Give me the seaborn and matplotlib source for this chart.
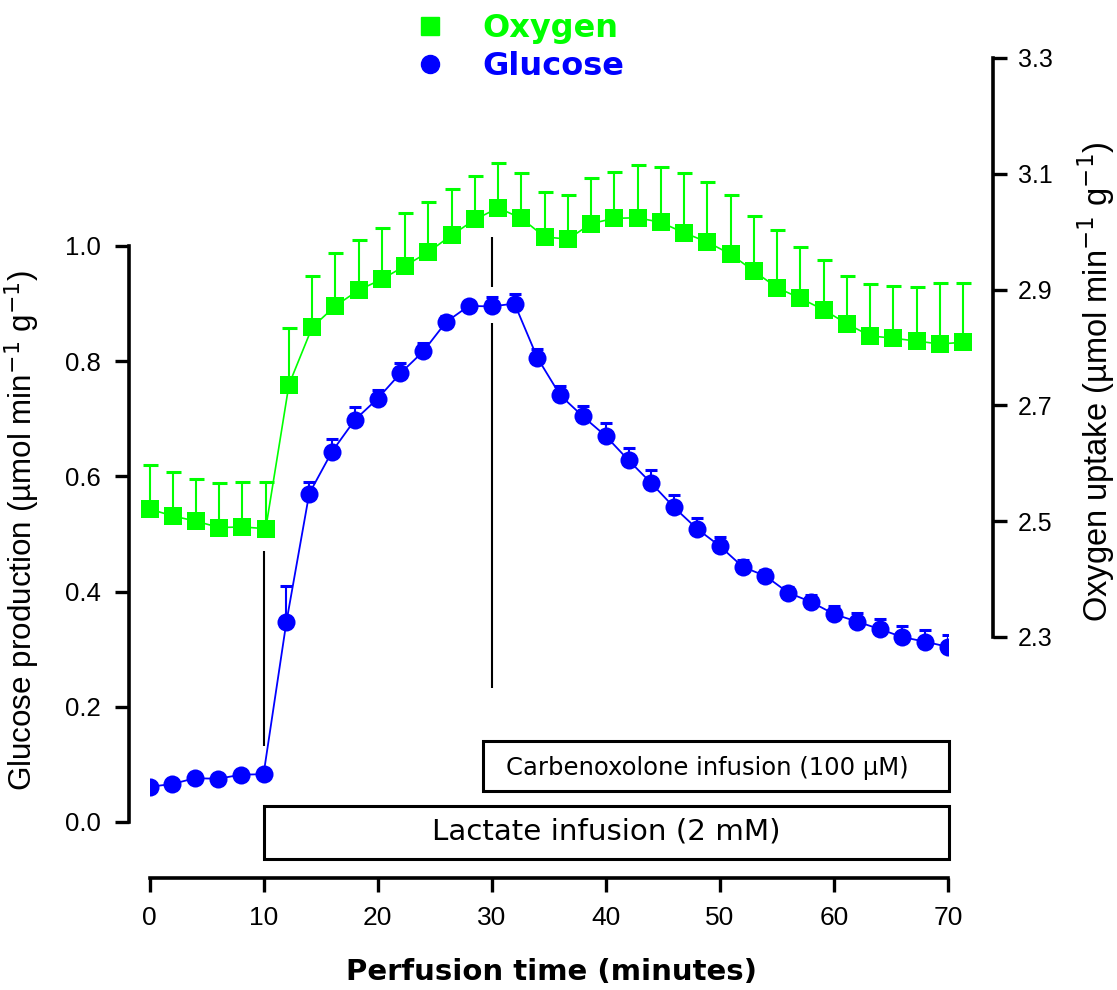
import numpy as np
import matplotlib
matplotlib.use('Agg')
import matplotlib.pyplot as plt
from matplotlib.lines import Line2D
from matplotlib.patches import Rectangle
import seaborn as sns

# perfusion time (minutes), one sample every 2 min
time = np.arange(0, 72, 2)

glucose = [0.061, 0.066, 0.076, 0.075, 0.082, 0.083, 0.347, 0.570, 0.643, 0.698,
           0.735, 0.779, 0.817, 0.868, 0.896, 0.895, 0.900, 0.806, 0.741, 0.704,
           0.670, 0.628, 0.588, 0.546, 0.509, 0.479, 0.443, 0.427, 0.398, 0.382,
           0.361, 0.348, 0.335, 0.321, 0.313, 0.304]
glucose_err = [0.004, 0.004, 0.004, 0.004, 0.004, 0.004, 0.063, 0.020, 0.022, 0.022,
               0.015, 0.017, 0.015, 0.010, 0.008, 0.017, 0.016, 0.016, 0.016, 0.018,
               0.022, 0.022, 0.023, 0.021, 0.019, 0.016, 0.012, 0.010, 0.010, 0.012,
               0.014, 0.015, 0.017, 0.019, 0.020, 0.020]

oxygen = [2.521, 2.509, 2.500, 2.489, 2.490, 2.487, 2.736, 2.835, 2.872, 2.899,
          2.918, 2.941, 2.965, 2.994, 3.021, 3.041, 3.023, 2.991, 2.987, 3.014,
          3.023, 3.024, 3.016, 2.998, 2.982, 2.961, 2.932, 2.903, 2.885, 2.865,
          2.841, 2.820, 2.816, 2.811, 2.806, 2.809]
oxygen_err = [0.076, 0.076, 0.072, 0.077, 0.078, 0.080, 0.097, 0.089, 0.092, 0.087,
              0.088, 0.092, 0.086, 0.080, 0.075, 0.078, 0.078, 0.077, 0.076, 0.078,
              0.080, 0.091, 0.096, 0.104, 0.104, 0.103, 0.095, 0.099, 0.088, 0.086,
              0.083, 0.089, 0.090, 0.094, 0.105, 0.102]

# infusion periods (start, end, label)
infusions = [(10.0, 70.1, 'Lactate infusion (2 mM)'),
             (29.2, 70.1, 'Carbenoxolone infusion (100 µM)')]
# marker lines at infusion start (time, [(ymin, ymax), ...])
event_lines = [(10, [(0.132, 0.470)]),
               (30, [(0.233, 0.866), (0.929, 1.016)])]

GREEN = '#00ff00'
BLUE = '#0000ff'

sns.set_style('white')
plt.rcParams['font.family'] = ['Liberation Sans', 'DejaVu Sans']
for k in ['text.color', 'axes.labelcolor', 'xtick.color', 'ytick.color']:
    plt.rcParams[k] = 'black'

fig = plt.figure(figsize=(11.17, 9.9), dpi=100)
pos = [149.5 / 1117, 122 / 990, 798.5 / 1117, 828 / 990]
ax = fig.add_axes(pos)
ax2 = fig.add_axes(pos)
ax2.patch.set_visible(False)

# glucose (left axis)
ax.errorbar(time, glucose, yerr=[np.zeros(len(time)), glucose_err], fmt='none',
            ecolor=BLUE, elinewidth=1.5, capsize=4.5, capthick=2.2, zorder=2)
sns.lineplot(x=time, y=glucose, ax=ax, color=BLUE, marker='o', markersize=13,
             markeredgewidth=0, linewidth=1.3, zorder=3)
ax.set_xlim(0, 70)
ax.set_ylim(-0.0799, 1.3576)

for t, segs in event_lines:
    for y0, y1 in segs:
        ax.vlines(t, y0, y1, color='black', linewidth=1.5, zorder=1)

ax.add_patch(Rectangle((infusions[0][0], -0.064), infusions[0][1] - infusions[0][0], 0.092,
                       fill=False, edgecolor='black', linewidth=2.2, clip_on=False))
ax.text(40.0, -0.017, infusions[0][2], ha='center', va='center', fontsize=21.2,
        family='DejaVu Sans')
ax.add_patch(Rectangle((infusions[1][0], 0.054), infusions[1][1] - infusions[1][0], 0.087,
                       fill=False, edgecolor='black', linewidth=2.2, clip_on=False))
ax.text(48.9, 0.094, infusions[1][2], ha='center', va='center', fontsize=17.5,
        family='DejaVu Sans')

for s in ['top', 'right']:
    ax.spines[s].set_visible(False)
ax.spines['left'].set_position(('outward', 14.8))
ax.spines['left'].set_bounds(0, 1)
ax.spines['bottom'].set_position(('outward', 7.2))
ax.spines['bottom'].set_bounds(0, 70)
for s in ['left', 'bottom']:
    ax.spines[s].set_linewidth(2.6)
    ax.spines[s].set_color('black')
ax.set_yticks(np.arange(0, 1.01, 0.2))
ax.set_yticklabels([f'{v:.1f}' for v in np.arange(0, 1.01, 0.2)])
ax.set_xticks(range(0, 71, 10))
ax.tick_params(axis='both', direction='out', length=10, width=2.4,
               color='black', left=True, bottom=True)
ax.tick_params(axis='y', labelsize=18.5, pad=10.5)
ax.tick_params(axis='x', labelsize=19, pad=10)
ax.set_xlabel('Perfusion time (minutes)', fontsize=21, fontweight='bold',
              family='DejaVu Sans')
ax.xaxis.set_label_coords(0.504, -0.1087)
ax.set_ylabel('Glucose production (µmol min$^{-1}$ g$^{-1}$)', fontsize=22.6)
ax.yaxis.set_label_coords(-0.1346, 0.408)

# oxygen (right axis, slightly different time scale in original figure)
ax2.errorbar(time, oxygen, yerr=[np.zeros(len(time)), oxygen_err], fmt='none',
             ecolor=GREEN, elinewidth=1.5, capsize=5.4, capthick=2.2, zorder=2)
sns.lineplot(x=time, y=oxygen, ax=ax2, color=GREEN, marker='s', markersize=13.5,
             markeredgewidth=0, linewidth=1.2, zorder=3)
for art in ax2.get_children():
    if isinstance(art, (Line2D, matplotlib.collections.LineCollection)):
        art.set_clip_on(False)
ax2.set_xlim(0, 68.7)
ax2.set_ylim(1.901, 3.331)
for s in ['top', 'left', 'bottom']:
    ax2.spines[s].set_visible(False)
ax2.spines['right'].set_position(('outward', 32.4))
ax2.spines['right'].set_bounds(2.3, 3.3)
ax2.spines['right'].set_linewidth(2.6)
ax2.spines['right'].set_color('black')
ax2.yaxis.tick_right()
ax2.yaxis.set_label_position('right')
ax2.set_xticks([])
ax2.set_yticks(np.arange(2.3, 3.31, 0.2))
ax2.set_yticklabels([f'{v:.1f}' for v in np.arange(2.3, 3.31, 0.2)])
ax2.tick_params(axis='y', direction='out', length=10, width=2.4, labelsize=18,
                color='black', pad=8, right=True)
ax2.set_xlabel('')
ax2.set_ylabel('Oxygen uptake (µmol min$^{-1}$ g$^{-1}$)', fontsize=23.5)
ax2.yaxis.set_label_coords(1.1597, 0.587)

handles = [Line2D([], [], color=GREEN, marker='s', linestyle='none', markersize=13),
           Line2D([], [], color=BLUE, marker='o', linestyle='none', markersize=13)]
leg = ax2.legend(handles, ['Oxygen', 'Glucose'], loc='upper left',
                 bbox_to_anchor=(414 / 1117, 1 - 13 / 990), bbox_transform=fig.transFigure,
                 frameon=False, borderpad=0, borderaxespad=0, handlelength=1.0,
                 handletextpad=1.15, labelspacing=0.22,
                 prop={'family': 'DejaVu Sans', 'weight': 'bold', 'size': 23})
for txt, c in zip(leg.get_texts(), [GREEN, BLUE]):
    txt.set_color(c)

fig.savefig('out.png', dpi=100)
